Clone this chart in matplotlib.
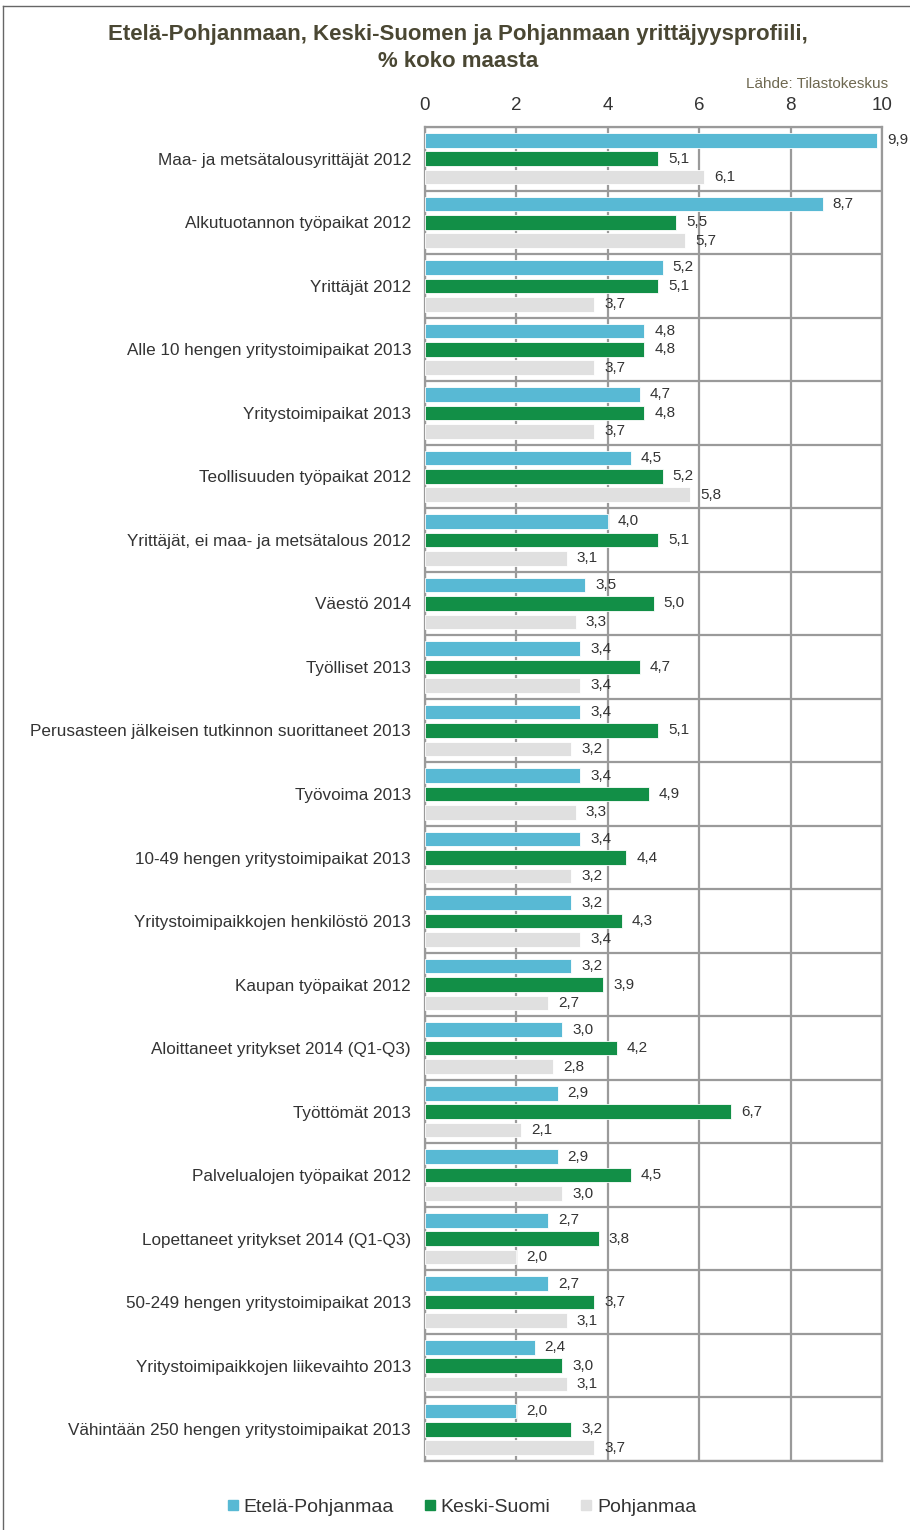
import numpy as np
import matplotlib.pyplot as plt
from matplotlib.lines import Line2D

plt.rcParams['font.family'] = ['Liberation Sans', 'DejaVu Sans']

categories = [
    'Maa- ja metsätalousyrittäjät 2012',
    'Alkutuotannon työpaikat 2012',
    'Yrittäjät 2012',
    'Alle 10 hengen yritystoimipaikat 2013',
    'Yritystoimipaikat 2013',
    'Teollisuuden työpaikat 2012',
    'Yrittäjät, ei maa- ja metsätalous 2012',
    'Väestö 2014',
    'Työlliset 2013',
    'Perusasteen jälkeisen tutkinnon suorittaneet 2013',
    'Työvoima 2013',
    '10-49 hengen yritystoimipaikat 2013',
    'Yritystoimipaikkojen henkilöstö 2013',
    'Kaupan työpaikat 2012',
    'Aloittaneet yritykset 2014 (Q1-Q3)',
    'Työttömät 2013',
    'Palvelualojen työpaikat 2012',
    'Lopettaneet yritykset 2014 (Q1-Q3)',
    '50-249 hengen yritystoimipaikat 2013',
    'Yritystoimipaikkojen liikevaihto 2013',
    'Vähintään 250 hengen yritystoimipaikat 2013',
]
etela_pohjanmaa = [9.9, 8.7, 5.2, 4.8, 4.7, 4.5, 4.0, 3.5, 3.4, 3.4, 3.4,
                   3.4, 3.2, 3.2, 3.0, 2.9, 2.9, 2.7, 2.7, 2.4, 2.0]
keski_suomi = [5.1, 5.5, 5.1, 4.8, 4.8, 5.2, 5.1, 5.0, 4.7, 5.1, 4.9,
               4.4, 4.3, 3.9, 4.2, 6.7, 4.5, 3.8, 3.7, 3.0, 3.2]
pohjanmaa = [6.1, 5.7, 3.7, 3.7, 3.7, 5.8, 3.1, 3.3, 3.4, 3.2, 3.3,
             3.2, 3.4, 2.7, 2.8, 2.1, 3.0, 2.0, 3.1, 3.1, 3.7]
series_names = ['Etelä-Pohjanmaa', 'Keski-Suomi', 'Pohjanmaa']
colors = ['#58b9d4', '#128f47', '#e0e0e0']

fig = plt.figure(figsize=(9.1, 15.3), dpi=100)
ax = fig.add_axes([425 / 910, 1 - 1461 / 1530, 457 / 910, 1334 / 1530])

y = np.arange(len(categories))
offsets = [-0.29, 0, 0.29]
for vals, off, c in zip([etela_pohjanmaa, keski_suomi, pohjanmaa], offsets, colors):
    ax.barh(y + off, vals, height=0.23, color=c, edgecolor='white', linewidth=0.6, zorder=3)
    for yi, v in zip(y, vals):
        ax.text(v + 0.22, yi + off, f'{v:.1f}'.replace('.', ','), va='center', ha='left',
                fontsize=11, color='#333333', zorder=4)

ax.set_xlim(0, 10)
ax.set_ylim(len(categories) - 0.5, -0.5)
ax.set_xticks(range(0, 11, 2))
ax.xaxis.tick_top()
ax.tick_params(axis='x', length=0, pad=9, labelsize=13.5, labelcolor='#333333')
ax.set_yticks(y)
ax.set_yticklabels(categories)
ax.tick_params(axis='y', length=0, pad=10, labelsize=12.3, labelcolor='#333333')
ax.set_yticks(np.arange(len(categories) + 1) - 0.5, minor=True)
ax.tick_params(axis='y', which='minor', length=0)
ax.grid(axis='x', color='#9a9a9a', linewidth=1.6, zorder=0)
ax.grid(axis='y', which='minor', color='#9a9a9a', linewidth=1.6, zorder=0)
for s in ax.spines.values():
    s.set_color('#9a9a9a')
    s.set_linewidth(1.6)

fig.text(458 / 910, 1 - 48 / 1530, 'Etelä-Pohjanmaan, Keski-Suomen ja Pohjanmaan yrittäjyysprofiili,\n% koko maasta',
         ha='center', va='center', fontsize=16, fontweight='bold', color='#4a4733', linespacing=1.35)
fig.text(888 / 910, 1 - 84 / 1530, 'Lähde: Tilastokeskus', ha='right', va='center',
         fontsize=11, color='#6e6850')

# frame around the picture
fig.add_artist(Line2D([3 / 910, 3 / 910], [0, 1 - 6 / 1530], color='#666666', linewidth=1))
fig.add_artist(Line2D([3 / 910, 1], [1 - 6 / 1530, 1 - 6 / 1530], color='#666666', linewidth=1))

handles = [Line2D([], [], marker='s', linestyle='', markersize=7, color=c) for c in colors]
fig.legend(handles, series_names, loc='center', bbox_to_anchor=(462 / 910, 1 - 1507 / 1530),
           ncol=3, frameon=False, fontsize=14, handlelength=0.5, handletextpad=0.3,
           columnspacing=1.6, labelcolor='#333333')

fig.savefig('out.png', dpi=100, facecolor='white')
